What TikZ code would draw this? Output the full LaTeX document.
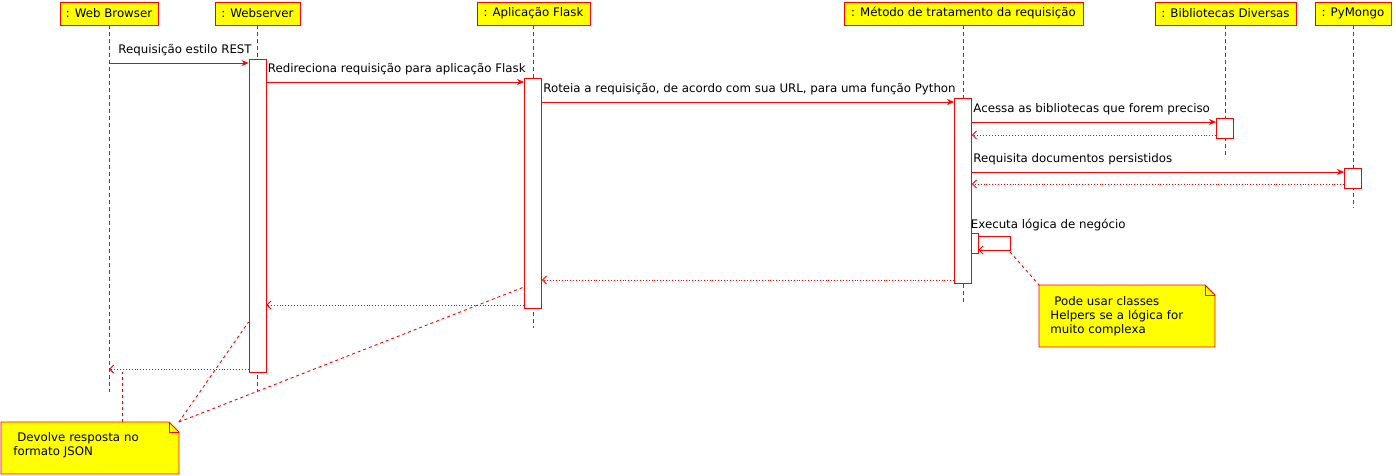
\documentclass[tikz,border=0pt]{standalone}
\usepackage{fontspec}
\setmainfont{DejaVu Sans}
\usetikzlibrary{arrows.meta, positioning}
\definecolor{umlred}{RGB}{255,0,0}
\definecolor{umlyellow}{RGB}{255,255,0}
\tikzstyle{obj} = [draw=umlred, fill=umlyellow, minimum height=23pt, inner sep=0pt]
\tikzstyle{act} = [draw=umlred, fill=white, minimum width=17pt, inner sep=0pt, anchor=north]
\tikzstyle{life} = [color=umlred, dash pattern=on 4pt off 3pt]
\tikzstyle{call} = [color=umlred, -{Stealth[length=7pt,width=6pt]}]
\tikzstyle{ret} = [color=umlred, dotted, -{Straight Barb[length=4pt,width=8pt]}]
\tikzstyle{selfcall} = [color=umlred, -{Straight Barb[length=4pt,width=8pt]}]
\tikzstyle{lbl} = [anchor=base west, inner sep=0pt, xshift=1pt, yshift=10pt, text=black]
\tikzstyle{note} = [anchor=north west, align=left, inner ysep=0pt]
\tikzstyle{notebg} = [draw=umlred, fill=umlyellow]
\tikzstyle{link} = [color=umlred, dash pattern=on 3pt off 3pt]

\begin{document}
\begin{tikzpicture}[x=1pt, y=-1pt, font=\fontsize{11.8}{14}\selectfont, line width=0.9pt]
\useasboundingbox (0,0) rectangle (1396,475);
% objects
\node (bro) [obj, minimum width=98pt] at (109,13.5) {: Web Browser};
\node (ws) [obj, minimum width=85pt] at (257.5,13.5) {: Webserver};
\node (flask) [obj, minimum width=113pt] at (533.5,13.5) {: Aplicação Flask};
\node (met) [obj, minimum width=239pt] at (963.5,13.5) {: Método de tratamento da requisição};
\node (bib) [obj, minimum width=141pt] at (1225.5,13.5) {: Bibliotecas Diversas};
\node (pym) [obj, minimum width=76pt] at (1353,13.5) {: PyMongo};
% lifelines
\draw [life] (bro) -- (bro |- 0,392);
\draw [life] (ws) -- (ws |- 0,392);
\draw [life] (flask) -- (flask |- 0,328);
\draw [life] (met) -- (met |- 0,303);
\draw [life] (bib) -- (bib |- 0,158);
\draw [life] (pym) -- (pym |- 0,208);
% activations
\node (wsAct) [act, minimum height=313pt] at (257.5,59) {};
\node (flaskAct) [act, minimum height=230pt] at (533,78) {};
\node (metAct) [act, minimum height=185pt] at (963,98) {};
\node (metSelf) [act, minimum width=7pt, minimum height=20pt] at (974.5,233) {};
\node (bibAct) [act, minimum height=20pt] at (1225,118) {};
\node (pymAct) [act, minimum height=20pt] at (1353,168) {};
% messages
\draw [call] (bro |- 0,63) -- node [lbl, pos=0, xshift=8pt] {Requisição estilo REST} (wsAct.west |- 0,63);
\draw [call] (wsAct.east |- 0,82) -- node [lbl, pos=0] {Redireciona requisição para aplicação Flask} (flaskAct.west |- 0,82);
\draw [call] (flaskAct.east |- 0,102) -- node [lbl, pos=0] {Roteia a requisição, de acordo com sua URL, para uma função Python} (metAct.west |- 0,102);
\draw [call] (metAct.east |- 0,122) -- node [lbl, pos=0] {Acessa as bibliotecas que forem preciso} (bibAct.west |- 0,122);
\draw [ret] (bibAct.west |- 0,135) -- (metAct.east |- 0,135);
\draw [call] (metAct.east |- 0,172) -- node [lbl, pos=0] {Requisita documentos persistidos} (pymAct.west |- 0,172);
\draw [ret] (pymAct.west |- 0,184) -- (metAct.east |- 0,184);
\coordinate (loop) at (1010,250);
\draw [selfcall] (metSelf.east |- 0,236) node [lbl, xshift=-9pt, yshift=-2pt] {Executa lógica de negócio} -| (loop) -- (metSelf.east |- loop);
\draw [ret] (metAct.west |- 0,280) -- (flaskAct.east |- 0,280);
\draw [ret] (flaskAct.west |- 0,305) -- (wsAct.east |- 0,305);
\draw [ret] (wsAct.west |- 0,369) -- (bro |- 0,369);
% notes
\fill [notebg] (1039,285) -- (1205,285) -- (1215,295) -- (1215,347) -- (1039,347) -- cycle;
\draw [umlred] (1205,285) -- (1205,295) -- (1215,295);
\node (helpNote) [note, minimum width=176pt, minimum height=62pt, text width=154pt, inner xsep=11pt] at (1039,285) {~Pode usar classes\\Helpers se a lógica for\\muito complexa};
\fill [notebg] (1,422) -- (169,422) -- (179,432) -- (179,474) -- (1,474) -- cycle;
\draw [umlred] (169,422) -- (169,432) -- (179,432);
\node (jsonNote) [note, minimum width=178pt, minimum height=46pt, text width=154pt, inner xsep=12pt] at (1,422) {~Devolve resposta no\\formato JSON};
% note links
\draw [link] (loop) ++(0,2) -- (helpNote.north west);
\draw [link] (jsonNote.north west) ++(121,0) -- ++(0,-50);
\draw [link] ([xshift=-1pt]jsonNote.north east) -- (wsAct.west |- 0,322);
\draw [link] ([xshift=-1pt]jsonNote.north east) -- (flaskAct.west |- 0,287);
\end{tikzpicture}
\end{document}
